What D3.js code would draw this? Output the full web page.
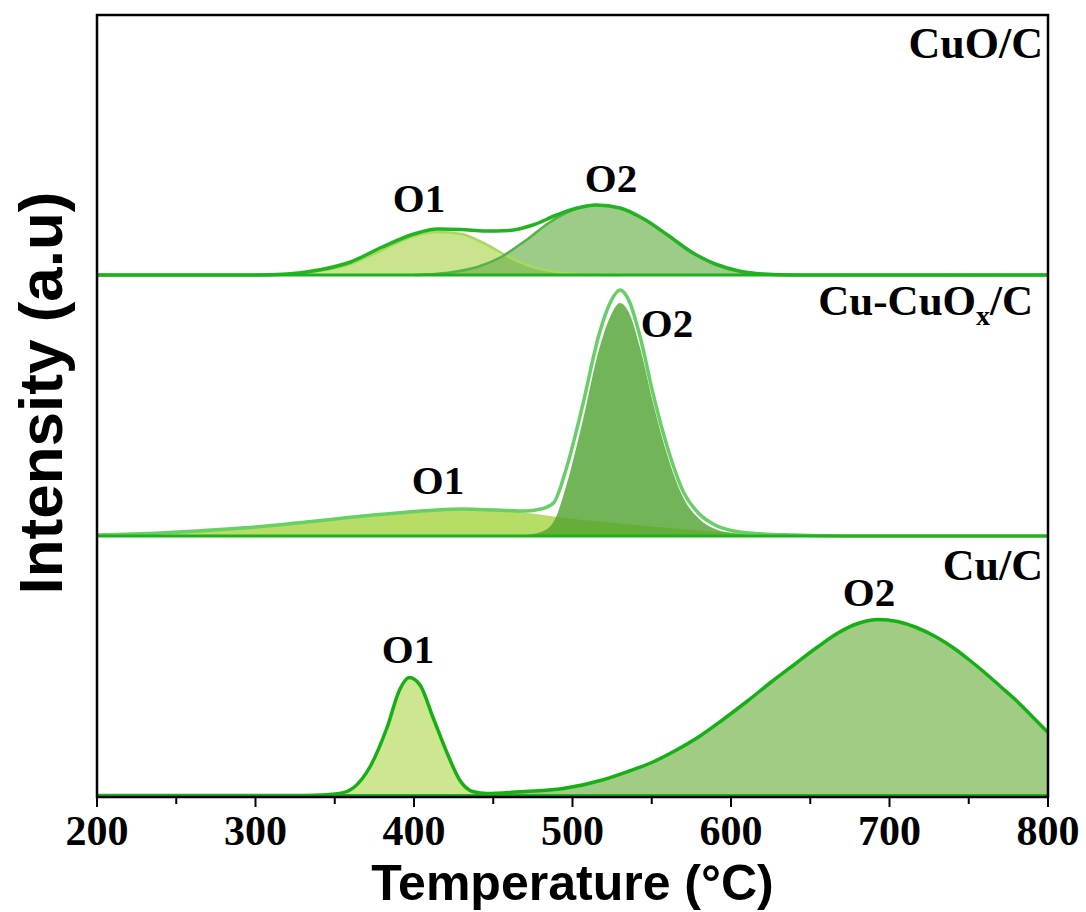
<!DOCTYPE html>
<html>
<head>
<meta charset="utf-8">
<script src="https://cdn.jsdelivr.net/npm/d3@7"></script>
<style>
  body { margin: 0; background: #fff; }
  svg text { font-family: "Liberation Serif", "Times New Roman", serif; font-weight: bold; fill: #000; }
  svg .sans { font-family: "Liberation Sans", Arial, sans-serif; }
</style>
</head>
<body>
<div id="chart"></div>
<script>
// temperature ticks
var majorTicks = [200, 300, 400, 500, 600, 700, 800];
var minorTicks = [250, 350, 450, 550, 650, 750];

// CuO/C  ([temperature, intensity a.u.])
var cuoO1 = [[300,0],[320,0.8],[340,4],[360,11],[380,25],[400,39],[415,43],[430,41],[445,31],[460,18],[475,8],[490,3],[510,0.5],[530,0]];
var cuoO2 = [[400,0],[420,2],[440,8],[455,18],[470,34],[485,52],[500,65],[515,70],[530,67],[545,56],[560,40],[575,23],[590,11],[605,4],[620,1],[640,0]];
var cuoEnv = [[200,0],[300,0],[320,1],[340,5],[360,13],[380,28],[400,41],[415,46],[430,45.5],[445,44],[460,44.5],[475,50],[490,60],[503,67],[515,70],[530,67],[545,56],[560,40],[575,23],[590,11],[605,4],[620,1],[640,0],[800,0]];

// Cu-CuOx/C
var cucuoO1 = [[200,0.5],[240,2.5],[263,4.5],[300,8.5],[326,12.5],[368,19.5],[410,25],[430,26],[455,25],[475,22.5],[490,19],[520,14],[550,9.5],[580,5.5],[610,2.5],[640,1],[680,0]];
var cucuoO2 = [[460,0],[470,1],[480,4],[488,14],[496,50],[506,112],[517,188],[524,220],[530,233],[536,222],[543,186],[551,132],[560,80],[570,38],[580,17],[590,7],[600,3],[615,1],[630,0]];
var cucuoEnv = [[200,1],[240,3],[263,5],[300,9],[326,13],[368,20],[410,25.5],[430,27],[452,26],[470,25],[480,27],[488,33],[496,67],[506,128],[517,203],[524,234],[530,246],[536,234],[543,197],[551,141],[560,88],[570,44],[580,22],[590,11],[600,5.5],[615,2.5],[640,1],[680,0],[800,0]];

// Cu/C
var cuO1 = [[330,0],[345,0.8],[353,2],[362,8],[372,28],[383,68],[391,106],[397,118],[404,110],[412,78],[421,42],[429,15],[437,3.3],[450,0.5],[465,0]];
var cuO2 = [[430,0],[446,1.5],[470,4],[494,7],[520,16],[535,24],[550,33],[565,45],[580,59],[595,76],[610,94],[625,113],[640,131],[655,149],[668,163],[680,172],[693,176],[705,174],[717,168],[730,158],[740,148],[750,136],[760,123],[770,109],[780,95],[790,79],[800,63]];
var cuEnv = [[200,0],[330,0],[345,0.8],[353,2],[362,8],[372,28],[383,68],[391,106],[397,118],[404,110],[412,78],[421,42],[429,15],[437,4],[446,2],[470,4],[494,7],[520,16],[535,24],[550,33],[565,45],[580,59],[595,76],[610,94],[625,113],[640,131],[655,149],[668,163],[680,172],[693,176],[705,174],[717,168],[730,158],[740,148],[750,136],[760,123],[770,109],[780,95],[790,79],[800,63]];

var W = 1086, H = 912;
var plotLeft = 97, plotRight = 1048, plotTop = 15, plotBottom = 797;

var svg = d3.select("#chart").append("svg")
    .attr("width", W)
    .attr("height", H);

var x = d3.scaleLinear().domain([200, 800]).range([plotLeft, plotRight]);

var panels = [
    { base: 275, o1: cuoO1, o2: cuoO2, env: cuoEnv,
      o1Fill: "#c9e48c", o2Fill: "#6fb34f", o2Op: 0.68,
      o1Stroke: "#a6d960", o2Stroke: "#52b444", envStroke: "#22b322",
      l1: [419, 212], l2: [611, 192] },
    { base: 536, o1: cucuoO1, o2: cucuoO2, env: cucuoEnv,
      o1Fill: "#b7dd66", o2Fill: "#4fa32f", o2Op: 0.8,
      o1Stroke: null, o2Stroke: null, envStroke: "#66cf66",
      l1: [438, 494], l2: [667, 337] },
    { base: 795.5, o1: cuO1, o2: cuO2, env: cuEnv,
      o1Fill: "#cde690", o2Fill: "#a0cc84", o2Op: 1,
      o1Stroke: null, o2Stroke: null, envStroke: "#16b016",
      l1: [408, 663], l2: [869, 606] }
];

panels.forEach(function (p) {
    var y = d3.scaleLinear().domain([0, 260]).range([p.base, p.base - 260]);
    var area = d3.area()
        .x(function (d) { return x(d[0]); })
        .y0(p.base)
        .y1(function (d) { return y(d[1]); })
        .curve(d3.curveMonotoneX);
    var line = d3.line()
        .x(function (d) { return x(d[0]); })
        .y(function (d) { return y(d[1]); })
        .curve(d3.curveMonotoneX);

    var g = svg.append("g");
    g.append("path").attr("d", area(p.o1)).attr("fill", p.o1Fill);
    g.append("path").attr("d", area(p.o2)).attr("fill", p.o2Fill).attr("fill-opacity", p.o2Op);
    if (p.o1Stroke) {
        g.append("path").attr("d", line(p.o1)).attr("fill", "none")
            .attr("stroke", p.o1Stroke).attr("stroke-width", 2.5);
    }
    if (p.o2Stroke) {
        g.append("path").attr("d", line(p.o2)).attr("fill", "none")
            .attr("stroke", p.o2Stroke).attr("stroke-width", 2.5);
    }
    g.append("path").attr("d", line(p.env)).attr("fill", "none")
        .attr("stroke", p.envStroke).attr("stroke-width", 3.5)
        .attr("stroke-linejoin", "round");
    // baseline
    g.append("line")
        .attr("x1", plotLeft).attr("x2", plotRight)
        .attr("y1", p.base).attr("y2", p.base)
        .attr("stroke", "#1db21d").attr("stroke-width", 3);

    g.append("text").attr("x", p.l1[0]).attr("y", p.l1[1])
        .attr("text-anchor", "middle").style("font-size", "41px").text("O1");
    g.append("text").attr("x", p.l2[0]).attr("y", p.l2[1])
        .attr("text-anchor", "middle").style("font-size", "41px").text("O2");
});

// sample names
svg.append("text").attr("x", 1043).attr("y", 58)
    .attr("text-anchor", "end").style("font-size", "44px").text("CuO/C");
var mid = svg.append("text").attr("x", 1033).attr("y", 315)
    .attr("text-anchor", "end").style("font-size", "43px");
mid.append("tspan").text("Cu-CuO");
mid.append("tspan").attr("dy", 10).style("font-size", "28px").text("x");
mid.append("tspan").attr("dy", -10).text("/C");
svg.append("text").attr("x", 1043).attr("y", 580)
    .attr("text-anchor", "end").style("font-size", "44px").text("Cu/C");

// frame
svg.append("rect")
    .attr("x", plotLeft).attr("y", plotTop)
    .attr("width", plotRight - plotLeft).attr("height", plotBottom - plotTop)
    .attr("fill", "none").attr("stroke", "#000").attr("stroke-width", 2.5);

// x axis ticks
var axis = svg.append("g").attr("transform", "translate(0," + (plotBottom + 1) + ")");
axis.selectAll(".major").data(majorTicks).enter().append("line")
    .attr("x1", function (d) { return x(d); }).attr("x2", function (d) { return x(d); })
    .attr("y1", 0).attr("y2", 9)
    .attr("stroke", "#000").attr("stroke-width", 2);
axis.selectAll(".minor").data(minorTicks).enter().append("line")
    .attr("x1", function (d) { return x(d); }).attr("x2", function (d) { return x(d); })
    .attr("y1", 0).attr("y2", 6)
    .attr("stroke", "#000").attr("stroke-width", 2);
axis.selectAll("text").data(majorTicks).enter().append("text")
    .attr("x", function (d) { return x(d); })
    .attr("y", 47)
    .attr("text-anchor", "middle")
    .style("font-size", "42px")
    .text(function (d) { return d; });

// axis titles
svg.append("text").attr("class", "sans")
    .attr("x", (plotLeft + plotRight) / 2).attr("y", 900)
    .attr("text-anchor", "middle").style("font-size", "50px")
    .text("Temperature (°C)");
svg.append("text").attr("class", "sans")
    .attr("transform", "translate(62,393) rotate(-90)")
    .attr("text-anchor", "middle").style("font-size", "62px")
    .text("Intensity (a.u)");
</script>
</body>
</html>
